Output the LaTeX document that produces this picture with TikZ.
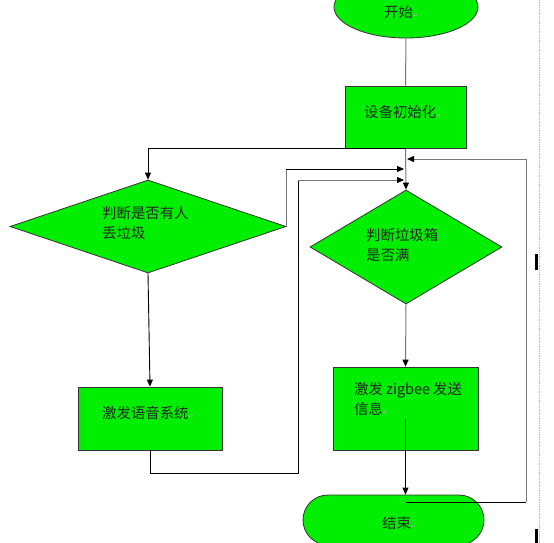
\documentclass[tikz,border=0pt]{standalone}
\usepackage{fontspec}
\newfontfamily\cjk{Noto Sans CJK SC}
\newfontfamily\sym{DejaVu Sans}
\usetikzlibrary{arrows.meta,shapes.geometric}
\definecolor{boxgreen}{RGB}{0,238,0}
\definecolor{lgray}{RGB}{120,120,120}
\definecolor{pageblue}{RGB}{150,180,220}
\newcommand{\parmk}{{\sym\fontsize{6}{6}\selectfont\color{black!30}↵}}
\begin{document}
\begin{tikzpicture}[x=1pt,y=-1pt,
  shapebox/.style={draw=black!80,line width=0.8pt,fill=boxgreen,inner sep=0pt},
  rectbox/.style={shapebox,rectangle},
  dia/.style={shapebox,diamond},
  lbl/.style={font=\cjk\fontsize{14.4}{20}\selectfont,inner sep=0pt,align=left,text=black!85},
  gline/.style={draw=lgray,line width=1pt},
  bline/.style={draw=black,line width=0.9pt},
  arr/.style={-{Triangle[length=7pt,width=6pt,black]}}]
\useasboundingbox (0,0) rectangle (554,543);
\fill[white] (0,0) rectangle (554,543);
% page artefacts
\draw[pageblue,densely dotted,line width=0.8pt] (539,0) -- (539,543);
\fill[black] (535,254) rectangle (538,270);
\fill[black] (535,529) rectangle (538,543);
% shapes
\node[shapebox,ellipse,minimum width=144,minimum height=62] (start) at (406,7) {};
\node[rectbox,minimum width=121,minimum height=62] (init) at (405.5,117) {};
\node[dia,minimum width=276,minimum height=93] (d1) at (148,226.5) {};
\node[dia,minimum width=192,minimum height=114] (d2) at (406,247) {};
\node[rectbox,minimum width=144,minimum height=63] (voice) at (150,418.5) {};
\node[rectbox,minimum width=145,minimum height=83] (zig) at (405.5,408.5) {};
\node[shapebox,rectangle,rounded corners=25pt,minimum width=181,minimum height=50] (end) at (393.5,520) {};
% texts
\node[lbl,anchor=west] (t0) at (384,12) {开始\parmk};
\node[lbl,anchor=west] (t1) at (364,112) {设备初始化\parmk};
\node[lbl,anchor=north west] (t2) at (102,206) {判断是否有人\\丢垃圾};
\node[lbl,anchor=north west] (t3) at (366,228) {判断垃圾箱\\是否满};
\node[lbl,anchor=west] (t4) at (102,413) {激发语音系统\parmk};
\node[lbl,anchor=north west] (t5) at (354,382) {激发 zigbee 发送\\信息\parmk};
\node[lbl,anchor=west] (t6) at (382,523) {结束\parmk};
% connector helpers
\coordinate (j1) at (404,169);
\coordinate (j2) at (404,180);
\coordinate (fb) at (407,159);
\coordinate (ein) at (406,502);
% connectors
\draw[gline] (start.south) -- (init.north);
\draw[gline,arr] (init.south) -- (d2.north);
\draw[bline,arr] (init.south) -| (d1.north);
\draw[gline] (d1.east) -- (d1.east |- j1);
\draw[bline,arr] (d1.east |- j1) -- (j1);
\draw[bline,arr] (d1.south) -- (voice.north);
\draw[bline] (voice.south) -- ++(0,23) -| (298,180);
\draw[gline,arr] (298,180) -- (j2);
\draw[gline,arr] (d2.south) -- (zig.north);
\draw[bline,arr] ([yshift=-10pt]zig.center) -- (zig.center |- end.north);
\draw[bline] (ein) -- (526,502);
\draw[gline] (526,502) -- (526,159);
\draw[gline,arr] (526,159) -- (fb);
\end{tikzpicture}
\end{document}
